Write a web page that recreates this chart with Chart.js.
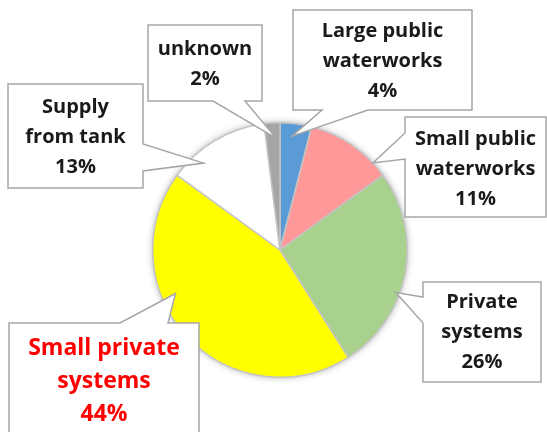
<!DOCTYPE html>
<html>
<head>
<meta charset="utf-8">
<script src="https://cdn.jsdelivr.net/npm/chart.js@4/dist/chart.umd.min.js"></script>
<style>
  html, body { margin: 0; padding: 0; background: #fff; }
  #wrap { width: 547px; height: 432px; }
</style>
</head>
<body>
<div id="wrap"><canvas id="pie"></canvas></div>
<script>
var categories = [
	['Large public', 'waterworks'],
	['Small public', 'waterworks'],
	['Private', 'systems'],
	['Small private', 'systems'],
	['Supply', 'from tank'],
	['unknown']
];
var values = [4, 11, 26, 44, 13, 2];
var colors = ['#5B9BD5', '#FF9999', '#A9D18E', '#FFFF00', '#FFFFFF', '#A5A5A5'];

// callout boxes: box rect, side the pointer leaves from, pointer base, tip (fraction along slice, fraction of radius)
var callouts = [
	{x: 293, y: 10, w: 179, h: 100, side: 'bottom', b1: 322, b2: 368, at: 0.42, rf: 0.90, cy: 61, size: 20, color: '#1a1a1a'},
	{x: 405, y: 117, w: 141, h: 100, side: 'left', b1: 133, b2: 159, at: 0.82, rf: 1.0, cy: 169, size: 20, color: '#1a1a1a'},
	{x: 423, y: 282, w: 118, h: 100, side: 'left', b1: 297, b2: 323, at: 0.60, rf: 0.97, cy: 332, size: 20, color: '#1a1a1a'},
	{x: 9, y: 323, w: 190, h: 120, side: 'top', b1: 120, b2: 168, at: 0.63, rf: 0.89, cy: 381, size: 23, color: '#FF0000', lh: 33},
	{x: 8, y: 84, w: 135, h: 104, side: 'right', b1: 144, b2: 171, at: 0.27, rf: 0.91, cy: 137, size: 20, color: '#1a1a1a'},
	{x: 148, y: 25, w: 114, h: 76, side: 'bottom', b1: 213, b2: 245, at: 0.72, rf: 0.88, cy: 64, size: 20, color: '#1a1a1a'}
];

function calloutPath (ctx, c, tx, ty) {
	var r = c.x + c.w, b = c.y + c.h;
	ctx.beginPath();
	ctx.moveTo(c.x, c.y);
	if (c.side == 'top') { ctx.lineTo(c.b1, c.y); ctx.lineTo(tx, ty); ctx.lineTo(c.b2, c.y); }
	ctx.lineTo(r, c.y);
	if (c.side == 'right') { ctx.lineTo(r, c.b1); ctx.lineTo(tx, ty); ctx.lineTo(r, c.b2); }
	ctx.lineTo(r, b);
	if (c.side == 'bottom') { ctx.lineTo(c.b2, b); ctx.lineTo(tx, ty); ctx.lineTo(c.b1, b); }
	ctx.lineTo(c.x, b);
	if (c.side == 'left') { ctx.lineTo(c.x, c.b2); ctx.lineTo(tx, ty); ctx.lineTo(c.x, c.b1); }
	ctx.closePath();
}

var pieShadow = {
	id: 'pieShadow',
	beforeDatasetsDraw: function (chart) {
		var arc = chart.getDatasetMeta(0).data[0];
		if (!arc) return;
		var ctx = chart.ctx;
		ctx.save();
		ctx.shadowColor = 'rgba(0,0,0,0.35)';
		ctx.shadowBlur = 7;
		ctx.fillStyle = '#fff';
		ctx.beginPath();
		ctx.arc(arc.x, arc.y, arc.outerRadius, 0, Math.PI * 2);
		ctx.fill();
		ctx.restore();
	}
};

var calloutPlugin = {
	id: 'callouts',
	afterDatasetsDraw: function (chart) {
		var ctx = chart.ctx,
			arcs = chart.getDatasetMeta(0).data,
			total = values.reduce(function (a, b) { return a + b; }, 0);
		for (var i = 0; i < callouts.length; i++) {
			var c = callouts[i], a = arcs[i];
			var ang = a.startAngle + (a.endAngle - a.startAngle) * c.at;
			var tx = a.x + Math.cos(ang) * a.outerRadius * c.rf,
				ty = a.y + Math.sin(ang) * a.outerRadius * c.rf;
			ctx.save();
			calloutPath(ctx, c, tx, ty);
			ctx.fillStyle = '#fff';
			ctx.fill();
			ctx.lineWidth = 1.5;
			ctx.strokeStyle = '#A6A6A6';
			ctx.stroke();

			var lines = [].concat(categories[i]);
			lines.push(Math.round(values[i] / total * 100) + '%');
			var lh = c.lh || 30,
				y0 = c.cy - (lines.length - 1) * lh / 2,
				cx = c.x + c.w / 2;
			ctx.font = 'bold ' + c.size + 'px "Open Sans"';
			ctx.fillStyle = c.color;
			ctx.textAlign = 'center';
			ctx.textBaseline = 'middle';
			for (var j = 0; j < lines.length; j++) {
				ctx.fillText(lines[j], cx, y0 + j * lh);
			}
			ctx.restore();
		}
	}
};

new Chart(document.getElementById('pie').getContext('2d'), {
	type: 'pie',
	data: {
		labels: categories,
		datasets: [{
			data: values,
			backgroundColor: colors,
			borderColor: '#C4C4C4',
			borderWidth: 1.5
		}]
	},
	options: {
		responsive: true,
		maintainAspectRatio: false,
		animation: false,
		layout: { padding: { left: 152, right: 139, top: 122, bottom: 54 } },
		plugins: {
			legend: { display: false },
			tooltip: { enabled: false }
		}
	},
	plugins: [pieShadow, calloutPlugin]
});
</script>
</body>
</html>
